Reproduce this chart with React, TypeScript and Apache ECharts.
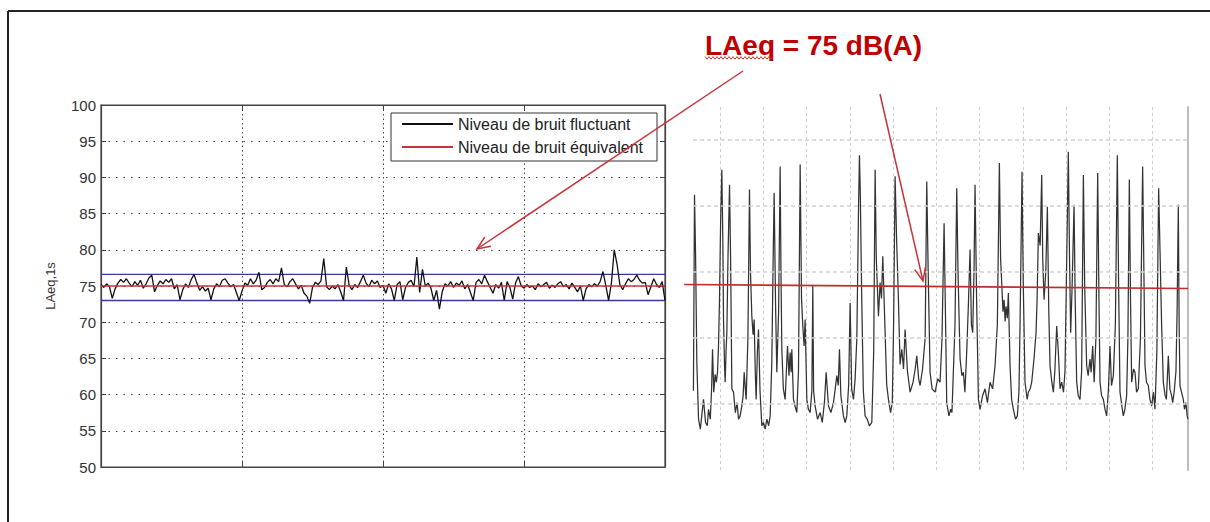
import { useEffect, useRef } from "react";
import * as echarts from "echarts";

// ---------- Left chart data ----------
const leftYMin = 50;
const leftYMax = 100;
const leftYStep = 5;
const leftXMax = 200;
const leftXStep = 50;
const legendNames = ["Niveau de bruit fluctuant", "Niveau de bruit équivalent"];
const yAxisTitle = "LAeq,1s";
const equivalentLevel = 75;
const upperBand = 76.6;
const lowerBand = 73.0;
const fluctuatingLevels = [
  75.2, 74.8, 75.3, 74.9, 73.3, 74.6, 75.4, 75.9, 75.5, 76.0,
  75.4, 74.9, 75.6, 75.1, 75.8, 74.7, 75.3, 76.1, 76.5, 74.2,
  75.1, 75.7, 75.3, 75.9, 75.5, 76.0, 74.6, 75.2, 73.1, 74.5,
  75.3, 74.8, 75.9, 76.6, 75.4, 74.4, 74.9, 74.3, 74.7, 73.1,
  74.6, 75.3, 74.9, 75.8, 76.0, 75.4, 74.9, 75.2, 74.1, 73.0,
  74.3, 75.4, 75.1, 76.0, 75.3, 75.8, 76.9, 74.5, 74.8, 75.5,
  75.9, 75.3, 76.0, 75.6, 77.5, 75.2, 74.9, 75.6, 76.0, 75.3,
  74.6, 75.1, 74.0, 73.6, 72.6, 74.8, 75.5, 75.2, 75.7, 78.8,
  74.9, 74.5, 75.0, 74.6, 75.2, 74.2, 73.0, 77.6, 75.1, 74.5,
  75.2, 74.8, 75.6, 76.5, 75.4, 74.9, 75.8, 75.3, 75.7, 74.8,
  75.1, 74.0, 75.3, 74.6, 73.0, 75.2, 75.6, 73.1, 74.8, 75.5,
  75.8, 74.9, 79.0, 74.1, 77.3, 75.0, 75.4, 74.7, 73.0, 74.4,
  71.8, 74.2, 75.3, 75.0, 75.6, 74.8, 75.4, 75.1, 75.7, 74.6,
  75.2, 74.1, 73.0, 75.5, 75.9, 75.3, 76.5, 75.6, 74.8, 74.0,
  75.2, 74.7, 75.5, 73.0, 75.6, 74.8, 73.2, 75.4, 76.3, 75.0,
  74.7, 75.2, 74.8, 75.0, 74.5, 75.3, 74.9, 75.2, 75.5, 74.7,
  75.1, 74.8, 75.3, 75.6, 74.9, 75.2, 74.6, 75.4, 74.8, 74.2,
  75.0, 73.0, 74.6, 75.2, 74.9, 75.3, 75.0, 75.6, 77.0, 75.1,
  73.0, 75.4, 80.0, 78.0, 75.2, 74.5, 75.3, 76.0, 75.6, 75.9,
  76.5, 75.8, 75.4, 75.5, 73.8, 74.9, 76.0, 75.2, 74.8, 75.6,
  73.0,
];

// ---------- Right chart data (scanned trace) ----------
const rightXMax = 118.2;
const rightXStep = 10;
const rightYMin = 40;
const rightYMax = 95;
const rightGridLevels = [50, 60, 70, 80, 90];
const rightGridStart = 3.7;
const rightRedLine: [number, number][] = [
  [1.66, 68.1],
  [118.2, 67.5],
];
const rightSamples: [number, number][] = [
  [3.8, 52], [4.05, 81.7], [4.3, 72.4], [4.59, 56.3], [4.98, 47.7],
  [5.4, 46.2], [5.8, 48.7], [6.13, 50.7], [6.6, 47.2], [7.0, 46.7], [7.29, 49.2], [7.7, 47.7], [8.0, 52.3], [8.22, 58.3], [8.5, 51.8], [8.83, 54.5], [9.1, 53.3], [9.37, 54.8], [9.6, 58.8],
  [9.83, 65.8], [10.1, 78], [10.37, 85.5], [10.6, 75], [10.76, 62.8], [11.0, 55.8], [11.14, 53.3], [11.35, 58], [11.53, 60.8], [11.8, 72.4], [12.15, 83.2], [12.4, 72], [12.69, 52.3], [13.07, 51.8], [13.5, 48.7], [13.9, 50.2], [14.23, 47.7], [14.6, 48.2], [15.0, 49.7], [15.3, 51.3], [15.54, 54.8], [15.8, 52.3], [16.0, 50.7], [16.4, 60], [16.77, 82.5], [17.0, 70], [17.31, 63.3], [17.6, 60.5], [17.85, 62.8], [18.1, 55], [18.31, 50.7], [18.6, 58], [18.85, 61.3], [19.2, 52], [19.62, 46.7], [20.0, 47.2], [20.39, 46.2], [20.8, 47.7], [21.2, 46.7], [21.55, 48.2], [21.93, 56.3], [22.2, 70], [22.47, 82.0], [22.8, 65], [23.09, 54.8], [23.5, 64], [23.86, 86.0], [24.05, 70], [24.25, 58.3], [24.6, 52.3], [25.02, 50.7], [25.3, 55], [25.56, 58.8], [25.9, 54.3], [26.17, 57.8], [26.4, 54.8], [26.56, 58.3], [26.94, 50.7], [27.3, 49.7], [27.72, 48.7], [28.1, 55], [28.49, 86.3], [28.8, 66], [29.1, 61.8], [29.4, 58.8], [29.64, 62.8], [30.03, 50.7], [30.4, 49.2], [30.8, 48.7], [31.2, 52], [31.41, 67.9], [31.6, 52], [31.95, 49.7], [32.5, 47.7], [33.11, 48.7], [33.6, 47.2], [34.1, 50.2], [34.5, 54.8], [35.04, 49.7], [35.6, 48.7], [36.19, 50.2], [36.6, 52.3], [36.96, 54.3], [37.3, 52.8], [37.58, 58.3], [37.9, 51.3], [38.5, 48.2], [38.9, 47.2], [39.28, 48.2], [39.7, 52.8], [40.05, 65.3], [40.4, 52.3], [40.82, 50.7], [41.2, 53.8], [41.6, 60], [42.0, 80], [42.2, 87.7], [42.4, 82], [42.6, 72], [42.74, 65.8], [43.1, 52], [43.51, 48.2], [44.0, 47.7], [44.5, 46.7], [45.06, 47.2], [45.5, 58], [45.83, 85.5], [46.1, 72], [46.6, 63.3], [46.98, 68.4], [47.3, 66], [47.6, 72.4], [47.9, 66], [48.14, 60.8], [48.5, 53], [48.91, 50.7], [49.4, 48.7], [49.8, 50.2], [50.1, 62], [50.45, 84.5], [50.8, 74.9], [51.22, 65.8], [51.6, 56], [52.0, 58.3], [52.4, 55.3], [52.76, 61.3], [53.3, 55], [53.92, 51.8], [54.6, 53.3], [55.1, 55.3], [55.46, 57.3], [55.9, 53.8], [56.23, 52.8], [56.8, 55.3], [57.4, 60], [57.77, 83.7], [58.1, 70], [58.54, 54.8], [59.0, 52.3], [59.7, 51.8], [60.3, 53.8], [60.85, 53.3], [61.3, 60], [61.78, 77.4], [62.05, 65.8], [62.39, 50.2], [62.9, 48.2], [63.32, 49.2], [63.6, 48.7], [64.3, 62], [64.71, 82.7], [65.0, 70], [65.48, 56.8], [65.9, 54.3], [66.25, 54.8], [66.6, 51.8], [67.02, 58], [67.4, 65], [67.79, 73.4], [68.1, 62], [68.4, 60.8], [68.7, 70], [68.94, 83.2], [69.3, 66], [69.72, 50.7], [70.1, 49.2], [70.7, 51.3], [71.26, 52.3], [71.8, 50.2], [72.41, 53.3], [73.0, 52.3], [73.57, 55.8], [74.1, 62], [74.57, 86.5], [74.85, 72], [75.11, 68.4], [75.4, 64], [75.65, 65.8], [75.9, 62.5], [76.11, 64.8], [76.4, 63], [76.65, 66.8], [77.04, 55.8], [77.4, 50.7], [77.81, 49.2], [78.3, 47.7], [78.73, 48.2], [79.1, 52], [79.35, 62], [79.81, 85.2], [80.1, 68], [80.5, 53.3], [81.0, 50.7], [81.28, 51.8], [81.7, 52.3], [82.05, 53.3], [82.6, 57], [83.05, 60.8], [83.3, 66], [83.59, 75.9], [84.0, 74], [84.36, 84.7], [84.6, 72], [84.9, 65.8], [85.3, 70], [85.67, 79.9], [86.0, 64], [86.29, 55.8], [86.7, 53.3], [87.06, 51.8], [87.4, 55], [87.83, 61.8], [88.2, 58], [88.6, 52.3], [88.98, 53.3], [89.4, 51.8], [89.75, 55], [90.1, 70], [90.52, 88.2], [90.8, 72], [91.06, 60.8], [91.4, 68], [91.84, 80.2], [92.1, 66], [92.45, 53.3], [92.8, 51.3], [93.22, 50.7], [93.6, 55], [94.0, 84.7], [94.3, 68], [94.76, 55.8], [95.1, 54.3], [95.53, 56.8], [95.8, 54.8], [96.15, 58.8], [96.5, 53.3], [96.9, 60], [97.31, 85.0], [97.6, 66], [97.85, 53.3], [98.2, 51.3], [98.62, 50.7], [99.0, 49.2], [99.39, 48.2], [99.8, 52.3], [100.16, 58.8], [100.5, 52.8], [100.93, 54.3], [101.4, 62], [101.85, 87.7], [102.15, 68], [102.47, 51.8], [102.9, 49.7], [103.24, 48.2], [103.6, 49.2], [104.01, 51.3], [104.3, 60], [104.63, 84.0], [104.9, 66], [105.17, 53.3], [105.6, 55.3], [105.94, 54.8], [106.3, 51.8], [106.71, 52.3], [107.2, 60], [107.71, 86.0], [108.0, 70], [108.25, 55.8], [108.6, 53.3], [109.02, 52.8], [109.4, 50.7], [109.79, 49.7], [110.2, 51.8], [110.56, 49.2], [111.0, 58], [111.41, 82.7], [111.72, 73.4], [112.1, 62], [112.49, 53.3], [112.9, 51.3], [113.2, 50.7], [113.65, 57.3], [114.0, 52.3], [114.4, 51.3], [114.65, 50.2], [115.0, 51.8], [115.42, 55], [115.7, 65], [115.96, 80.2], [116.15, 62], [116.34, 52.8], [116.7, 51.8], [117.11, 50.7], [117.4, 49.2], [117.73, 50.2], [118.0, 48.2], [118.2, 47.7],
];

const annotationText = "LAeq = 75 dB(A)";

const FONT = '"Liberation Sans", Arial, Helvetica, sans-serif';
const RED = "#c8333a";

function buildOption() {
  const axisDark = "#444";
  const squiggle: number[][] = [];
  for (let i = 0; i <= 34; i++) squiggle.push([705 + i * 2, i % 2 === 0 ? 56.6 : 59.2]);

  return {
    animation: false,
    backgroundColor: "#ffffff",
    textStyle: { fontFamily: FONT },
    grid: [
      { left: 101, top: 105, width: 564, height: 362, show: true, borderColor: axisDark, borderWidth: 1.2, backgroundColor: "#fff" },
      { left: 677, top: 107, width: 511, height: 363, show: false },
    ],
    xAxis: [
      {
        gridIndex: 0, type: "value", min: 0, max: leftXMax, interval: leftXStep, position: "bottom",
        axisLine: { show: true, onZero: false, lineStyle: { color: axisDark, width: 1.2 } },
        axisTick: { show: true, inside: true, length: 5, lineStyle: { color: axisDark } },
        axisLabel: { show: false },
        splitLine: { show: true, showMinLine: false, showMaxLine: false, lineStyle: { type: [1.5, 3], color: "#444", width: 1 } },
      },
      {
        gridIndex: 0, type: "value", min: 0, max: leftXMax, interval: leftXStep, position: "top",
        axisLine: { show: true, onZero: false, lineStyle: { color: axisDark, width: 1.2 } },
        axisTick: { show: true, inside: true, length: 5, lineStyle: { color: axisDark } },
        axisLabel: { show: false },
        splitLine: { show: false },
      },
      {
        gridIndex: 1, type: "value", min: 0, max: rightXMax, interval: rightXStep,
        axisLine: { show: false, onZero: false }, axisTick: { show: false }, axisLabel: { show: false },
        splitLine: { show: true, showMinLine: false, showMaxLine: false, lineStyle: { type: [3, 3], color: "#cdcdcd", width: 1 } },
      },
    ],
    yAxis: [
      {
        gridIndex: 0, type: "value", min: leftYMin, max: leftYMax, interval: leftYStep, position: "left",
        name: yAxisTitle, nameLocation: "middle", nameGap: 44,
        nameTextStyle: { fontSize: 13, color: "#333", fontFamily: FONT },
        axisLine: { show: true, onZero: false, lineStyle: { color: axisDark, width: 1.2 } },
        axisTick: { show: true, inside: true, length: 5, lineStyle: { color: axisDark } },
        axisLabel: { show: true, fontSize: 15, color: "#333", margin: 5, fontFamily: FONT },
        splitLine: { show: true, showMinLine: false, showMaxLine: false, lineStyle: { type: [1.5, 6], color: "#444", width: 1 } },
      },
      {
        gridIndex: 0, type: "value", min: leftYMin, max: leftYMax, interval: leftYStep, position: "right",
        axisLine: { show: true, onZero: false, lineStyle: { color: axisDark, width: 1.2 } },
        axisTick: { show: true, inside: true, length: 5, lineStyle: { color: axisDark } },
        axisLabel: { show: false },
        splitLine: { show: false },
      },
      {
        gridIndex: 1, type: "value", min: rightYMin, max: rightYMax, position: "right",
        axisLine: { show: true, onZero: false, lineStyle: { color: "#bdbdbd", width: 2 } },
        axisTick: { show: false }, axisLabel: { show: false }, splitLine: { show: false },
      },
    ],
    legend: {
      data: legendNames,
      orient: "vertical",
      left: 391,
      top: 113,
      itemWidth: 51,
      itemHeight: 14,
      itemGap: 7,
      padding: [3, 14, 6, 10],
      backgroundColor: "#fff",
      borderColor: "#333",
      borderWidth: 1,
      itemStyle: { opacity: 0 },
      textStyle: { fontSize: 16, color: "#222", fontFamily: FONT, lineHeight: 16 },
      selectedMode: false,
    },
    series: [
      {
        name: "upper", type: "line", xAxisIndex: 0, yAxisIndex: 0, symbol: "none", silent: true,
        data: [[0, upperBand], [leftXMax, upperBand]],
        lineStyle: { color: "#3a3a98", width: 1.3 },
      },
      {
        name: "lower", type: "line", xAxisIndex: 0, yAxisIndex: 0, symbol: "none", silent: true,
        data: [[0, lowerBand], [leftXMax, lowerBand]],
        lineStyle: { color: "#3a3a98", width: 1.3 },
      },
      {
        name: legendNames[0], type: "line", xAxisIndex: 0, yAxisIndex: 0, symbol: "none", silent: true,
        data: fluctuatingLevels.map((v, i) => [i, v]),
        lineStyle: { color: "#111", width: 1.3 },
        itemStyle: { color: "#111" },
      },
      {
        name: legendNames[1], type: "line", xAxisIndex: 0, yAxisIndex: 0, symbol: "none", silent: true,
        data: [[0, equivalentLevel], [leftXMax, equivalentLevel]],
        lineStyle: { color: RED, width: 1.6 },
        itemStyle: { color: RED },
      },
      {
        name: "right-grid", type: "line", xAxisIndex: 2, yAxisIndex: 2, symbol: "none", silent: true,
        data: [],
        markLine: {
          silent: true, symbol: ["none", "none"], label: { show: false },
          lineStyle: { type: [4, 3], color: "#d2d2d2", width: 1.5 },
          data: rightGridLevels.map((v) => [{ coord: [rightGridStart, v] }, { coord: [rightXMax, v] }]),
        },
      },
      {
        name: "trace", type: "line", xAxisIndex: 2, yAxisIndex: 2, symbol: "none", silent: true,
        data: rightSamples,
        lineStyle: { color: "#333", width: 1.25 },
      },
      {
        name: "leq-right", type: "line", xAxisIndex: 2, yAxisIndex: 2, symbol: "none", silent: true, clip: false,
        data: rightRedLine,
        lineStyle: { color: "#c42b2b", width: 1.6 },
      },
    ],
    graphic: {
      elements: [
        { type: "line", z: 100, shape: { x1: 8, y1: 11, x2: 1210, y2: 11 }, style: { stroke: "#222", lineWidth: 2 } },
        { type: "line", z: 100, shape: { x1: 8, y1: 11, x2: 8, y2: 522 }, style: { stroke: "#222", lineWidth: 2 } },
        {
          type: "text", z: 100, x: 705, y: 45,
          style: { text: annotationText, fontSize: 28, fontWeight: "bold", fontFamily: FONT, fill: "#c00000", align: "left", verticalAlign: "middle" },
        },
        { type: "polyline", z: 100, shape: { points: squiggle }, style: { stroke: "#c0392b", lineWidth: 1, fill: null } },
        { type: "line", z: 100, shape: { x1: 743, y1: 71, x2: 477, y2: 249 }, style: { stroke: RED, lineWidth: 1.5 } },
        { type: "polyline", z: 100, shape: { points: [[491, 246.3], [477, 249], [484.7, 237.2]] }, style: { stroke: RED, lineWidth: 1.5, fill: null } },
        { type: "line", z: 100, shape: { x1: 880, y1: 94, x2: 923, y2: 281 }, style: { stroke: RED, lineWidth: 1.5 } },
        { type: "polyline", z: 100, shape: { points: [[925.4, 267.1], [923, 281], [914.7, 269.6]] }, style: { stroke: RED, lineWidth: 1.5, fill: null } },
      ],
    },
  };
}

export default function App() {
  const ref = useRef<HTMLDivElement>(null);
  useEffect(() => {
    if (!ref.current) return;
    const chart = echarts.init(ref.current, undefined, { renderer: "svg" });
    chart.setOption(buildOption() as any);
    return () => chart.dispose();
  }, []);
  return (
    <div
      ref={ref}
      style={{ position: "fixed", left: 0, top: 0, width: 1210, height: 522, background: "#fff" }}
    />
  );
}
